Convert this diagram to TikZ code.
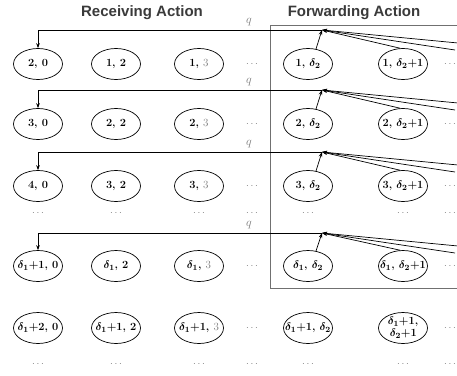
\documentclass[tikz,border=0pt]{standalone}
\usepackage{fontspec}
\usetikzlibrary{shapes.geometric,arrows.meta}
\newfontfamily\titlefont{Liberation Sans}
\definecolor{boxgray}{HTML}{707070}
\definecolor{txtgray}{HTML}{7A7A7A}
\definecolor{titlegray}{HTML}{3A3A3A}
\tikzset{
  ell/.style={draw, ellipse, minimum width=49pt, minimum height=31pt, inner sep=0pt, line width=0.7pt},
  lbl/.style={font=\fontsize{11}{12}\selectfont\bfseries\boldmath, align=center, inner sep=0pt},
  dotsn/.style={text=txtgray, font=\fontsize{10}{12}\selectfont, inner sep=0pt},
  qlab/.style={text=txtgray, font=\fontsize{12.5}{14}\selectfont, inner sep=0pt},
  conn/.style={line width=0.7pt, -{Stealth[length=5pt,width=3.6pt]}},
  ttl/.style={text=titlegray, font=\titlefont\fontsize{15}{17}\selectfont\bfseries, inner sep=0pt}
}
\newcommand{\gthree}{{\color{txtgray}\mdseries 3}}
\begin{document}
\begin{tikzpicture}[x=1pt,y=-1pt]
\useasboundingbox (0,0) rectangle (457,375);
\clip (0,0) rectangle (457,375);
% titles
\node[ttl] (t1) at (142,13) {Receiving Action};
\node[ttl] (t2) at (354,13) {Forwarding Action};
% forwarding box
\draw[boxgray, line width=1pt] (470,25) -- (270,25) -- (270,288) -- (470,288);
% row 1
\node[ell, label={[lbl]center:{2, 0}}] (a11) at (38,64) {};
\node[ell, label={[lbl]center:{1, 2}}] (a12) at (116,64) {};
\node[ell, label={[lbl]center:{1, \gthree}}] (a13) at (199,64) {};
\node[dotsn] (d14) at (252,64) {$\cdots$};
\node[ell, label={[lbl]center:{1, $\delta_2$}}] (a14) at (308,64) {};
\node[ell, label={[lbl]center:{1, $\delta_2$+1}}] (a15) at (403,64) {};
\node[dotsn] (d16) at (450,64) {$\cdots$};
% row 2
\node[ell, label={[lbl]center:{3, 0}}] (a21) at (38,124) {};
\node[ell, label={[lbl]center:{2, 2}}] (a22) at (116,124) {};
\node[ell, label={[lbl]center:{2, \gthree}}] (a23) at (199,124) {};
\node[dotsn] (d24) at (252,124) {$\cdots$};
\node[ell, label={[lbl]center:{2, $\delta_2$}}] (a24) at (308,124) {};
\node[ell, label={[lbl]center:{2, $\delta_2$+1}}] (a25) at (403,124) {};
\node[dotsn] (d26) at (450,124) {$\cdots$};
% row 3
\node[ell, label={[lbl]center:{4, 0}}] (a31) at (38,186) {};
\node[ell, label={[lbl]center:{3, 2}}] (a32) at (116,186) {};
\node[ell, label={[lbl]center:{3, \gthree}}] (a33) at (199,186) {};
\node[dotsn] (d34) at (252,186) {$\cdots$};
\node[ell, label={[lbl]center:{3, $\delta_2$}}] (a34) at (308,186) {};
\node[ell, label={[lbl]center:{3, $\delta_2$+1}}] (a35) at (403,186) {};
\node[dotsn] (d36) at (450,186) {$\cdots$};
% dots row
\foreach \x/\n in {38/1,116/2,199/3,252/4,308/5,403/6,450/7}{
  \node[dotsn] (dr1\n) at (\x,213) {$\cdots$};
}
% row 4
\node[ell, label={[lbl]center:{$\delta_1$+1, 0}}] (a41) at (38,266) {};
\node[ell, label={[lbl]center:{$\delta_1$, 2}}] (a42) at (116,266) {};
\node[ell, label={[lbl]center:{$\delta_1$, \gthree}}] (a43) at (199,266) {};
\node[dotsn] (d44) at (252,266) {$\cdots$};
\node[ell, label={[lbl]center:{$\delta_1$, $\delta_2$}}] (a44) at (308,266) {};
\node[ell, label={[lbl]center:{$\delta_1$, $\delta_2$+1}}] (a45) at (403,266) {};
\node[dotsn] (d46) at (450,266) {$\cdots$};
% row 5
\node[ell, label={[lbl]center:{$\delta_1$+2, 0}}] (a51) at (38,328) {};
\node[ell, label={[lbl]center:{$\delta_1$+1, 2}}] (a52) at (116,328) {};
\node[ell, label={[lbl]center:{$\delta_1$+1, \gthree}}] (a53) at (199,328) {};
\node[dotsn] (d54) at (252,328) {$\cdots$};
\node[ell, label={[lbl]center:{$\delta_1$+1, $\delta_2$}}] (a54) at (308,328) {};
\node[ell, label={[lbl,align=left]center:{$\delta_1$+1,\\\hspace*{2pt}$\delta_2$+1}}] (a55) at (403,328) {};
\node[dotsn] (d56) at (450,328) {$\cdots$};
% bottom dots
\foreach \x/\n in {38/1,116/2,199/3,252/4,308/5,403/6,450/7}{
  \node[dotsn] (dr2\n) at (\x,364) {$\cdots$};
}
% connectors per row
\foreach \r/\ly in {1/30,2/90,3/152,4/233}{
  \coordinate (J\r) at (322,\ly);
  \coordinate (E\r a) at (458,\ly+13);
  \coordinate (E\r b) at (455,\ly+20);
  \node[qlab] (q\r) at (249,\ly-8) {$q$};
  \draw[conn] (J\r) -| (a\r1.north);
  \draw[conn] (a\r4.62) -- (J\r);
  \draw[conn] (a\r5.100) -- (J\r);
  \draw[conn] (E\r a) -- (J\r);
  \draw[conn] (E\r b) -- (J\r);
}
\end{tikzpicture}
\end{document}
